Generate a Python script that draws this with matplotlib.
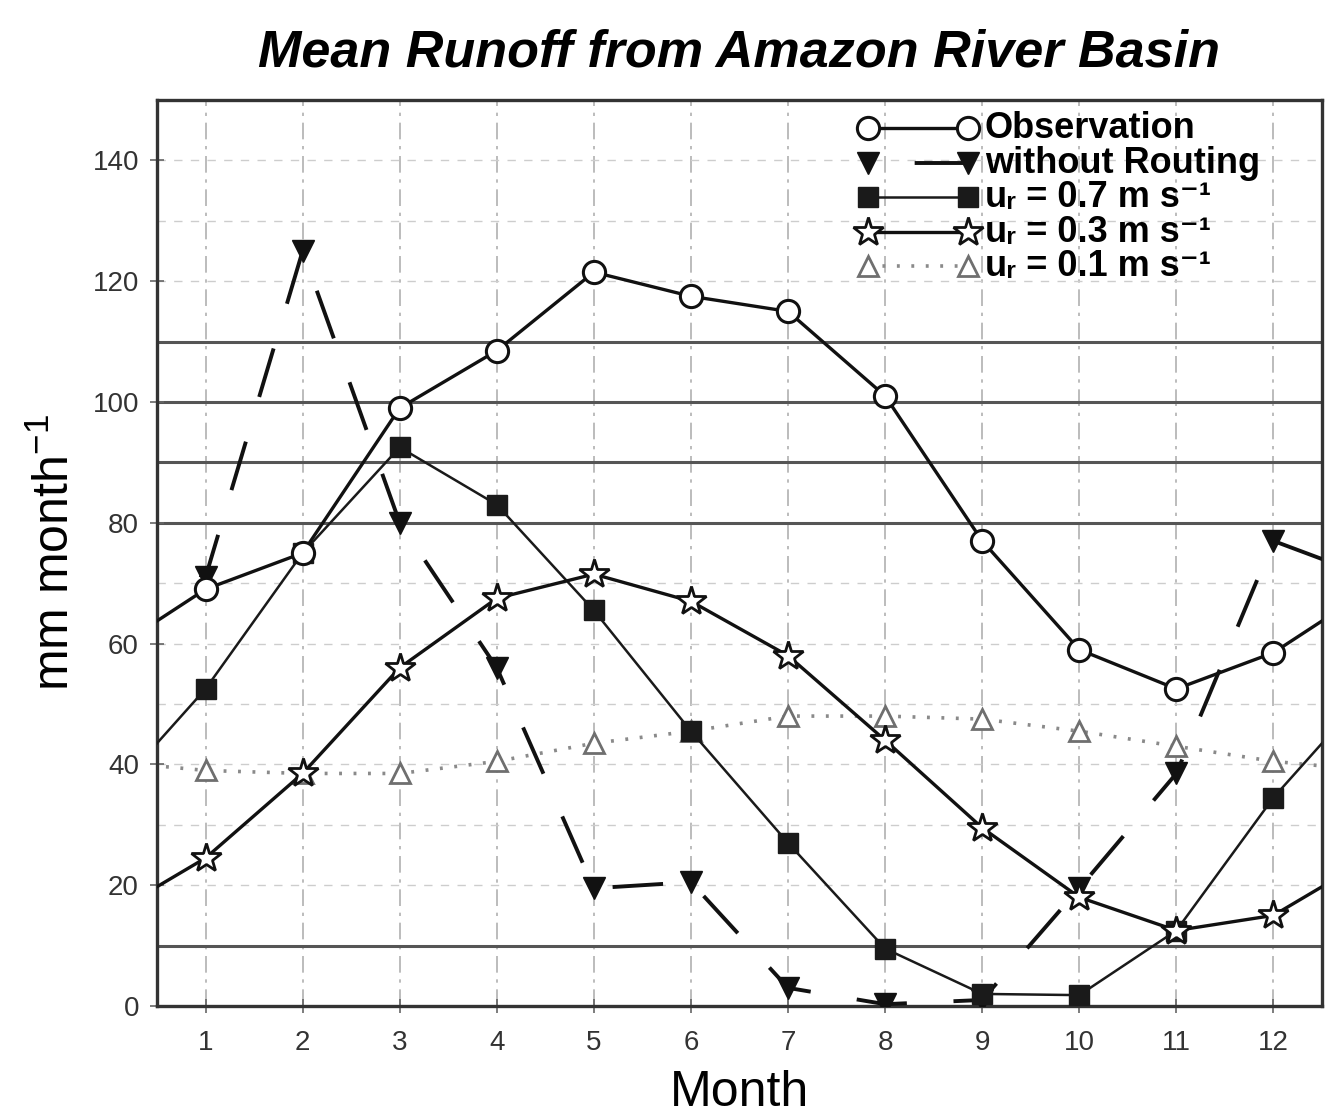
# ==================================================================================
# IMPORT LIBRARIES
# ==================================================================================
from matplotlib import pyplot as plt
import numpy as np

# ==================================================================================
# DATA
# ==================================================================================
months      = [1, 2, 3, 4, 5, 6, 7, 8, 9, 10, 11, 12]
observation = [69, 75, 99, 108.5, 121.5, 117.5, 115, 101, 77, 59, 52.5, 58.5]
no_routing  = [71, 125, 80, 56, 19.5, 20.5, 3, 0.3, 1, 19.5, 38.5, 77]
ur_07       = [52.5, 75, 92.5, 83, 65.5, 45.5, 27, 9.5, 2, 1.8, 12.5, 34.5]
ur_03       = [24.5, 38.5, 56, 67.5, 71.5, 67, 58, 44, 29.5, 18, 12.5, 15]
ur_01       = [39, 38.5, 38.5, 40.5, 43.5, 45.5, 48, 48, 47.5, 45.5, 43, 40.5]

labels      = ['Observation', 'without Routing',
               'u\u1d63 = 0.7 m s\u207b\u00b9', 'u\u1d63 = 0.3 m s\u207b\u00b9',
               'u\u1d63 = 0.1 m s\u207b\u00b9']
yticks      = [0, 20, 40, 60, 80, 100, 120, 140]
scan_lines  = [10, 80, 90, 100, 110]   # dark horizontal streaks of the scan

# ==================================================================================
# PLOT CONFIG
# ==================================================================================
plt.rcParams['font.family']      = ['Liberation Sans', 'DejaVu Sans']
plt.rcParams['mathtext.default'] = 'regular'

# one style per series, legend order
styles = [
    dict(color='#111111', lw=2.4, marker='o', ms=16, mfc='white', mec='#111111', mew=2.2, zorder=7),
    dict(color='#111111', lw=2.8, linestyle=(0, (13, 12)), marker='v', ms=16,
         mfc='#111111', mec='#111111', zorder=4),
    dict(color='#1a1a1a', lw=1.8, marker='s', ms=14, mfc='#1a1a1a', mec='#1a1a1a', zorder=5),
    dict(color='#111111', lw=2.4, marker='*', ms=22, mfc='white', mec='#111111', mew=2, zorder=6),
    dict(color='#8a8a8a', lw=2.6, linestyle=(0, (0.8, 3.2)), marker='^', ms=14,
         mfc='white', mec='#6f6f6f', mew=2, zorder=3),
]
series = [observation, no_routing, ur_07, ur_03, ur_01]


def cyclic(vals):
    # annual cycle: Dec before Jan and Jan after Dec, so lines run to the frame edges
    x = [0] + months + [13]
    y = [vals[-1]] + list(vals) + [vals[0]]
    return x, y


fig = plt.figure(figsize=(13.42, 11.15), dpi=100)
ax  = fig.add_axes([157/1342, 1 - 1006/1115, (1322 - 157)/1342, (1006 - 100)/1115])
ax.set_xlim(0.5, 12.5)
ax.set_ylim(0, 150)

# grid: faint dash-dot lines
for m in months:
    ax.axvline(m, color='#b0b0b0', lw=1.2, linestyle=(0, (10, 4, 2, 4)), zorder=0)
for v in range(10, 150, 10):
    ax.axhline(v, color='#cdcdcd', lw=1.0, linestyle=(0, (6, 6)), zorder=0)
for v in scan_lines:
    ax.axhline(v, color='#555555', lw=2.2, zorder=1)

# ==================================================================================
# SERIES
# ==================================================================================
for vals, st in zip(series, styles):
    x, y = cyclic(vals)
    ax.plot(x, y, markevery=slice(1, 13), **st)

# ==================================================================================
# LEGEND (drawn row by row, markers at both ends of the sample line)
# ==================================================================================
def ax_x(px): return (px - 157) / 1165
def ax_y(py): return (1006 - py) / 906

row_px = [128, 163, 197, 232, 266]
for lab, st, py in zip(labels, styles, row_px):
    st = dict(st)
    if st.get('linestyle') == (0, (13, 12)):
        st['linestyle'] = (13, (13, 12))      # sample starts with a gap, as in the scan
    st.pop('zorder')
    ax.plot([ax_x(868), ax_x(968)], [ax_y(py), ax_y(py)], transform=ax.transAxes,
            clip_on=False, zorder=8, **st)
    ax.text(ax_x(985), ax_y(py + 10), lab, transform=ax.transAxes, fontsize=26,
            fontweight='bold', ha='left', va='baseline', zorder=8)

# ==================================================================================
# AXES, LABELS
# ==================================================================================
ax.set_xticks(months)
ax.set_yticks(yticks)
ax.tick_params(axis='both', direction='inout', length=10, width=1.2, color='#666666',
               labelsize=20, labelcolor='#333333')
ax.tick_params(axis='x', pad=12)
ax.tick_params(axis='y', pad=8)
for side in ['left', 'right', 'top', 'bottom']:
    ax.spines[side].set_linewidth(2.4)
    ax.spines[side].set_color('#333333')

ax.set_title('Mean Runoff from Amazon River Basin', fontsize=37.5, fontweight='bold',
             fontstyle='italic', pad=24)
ax.set_xlabel('Month', fontsize=36, labelpad=10)
ax.set_ylabel('mm month$^{-1}$', fontsize=36, labelpad=10)

fig.savefig('out.png', dpi=100)
